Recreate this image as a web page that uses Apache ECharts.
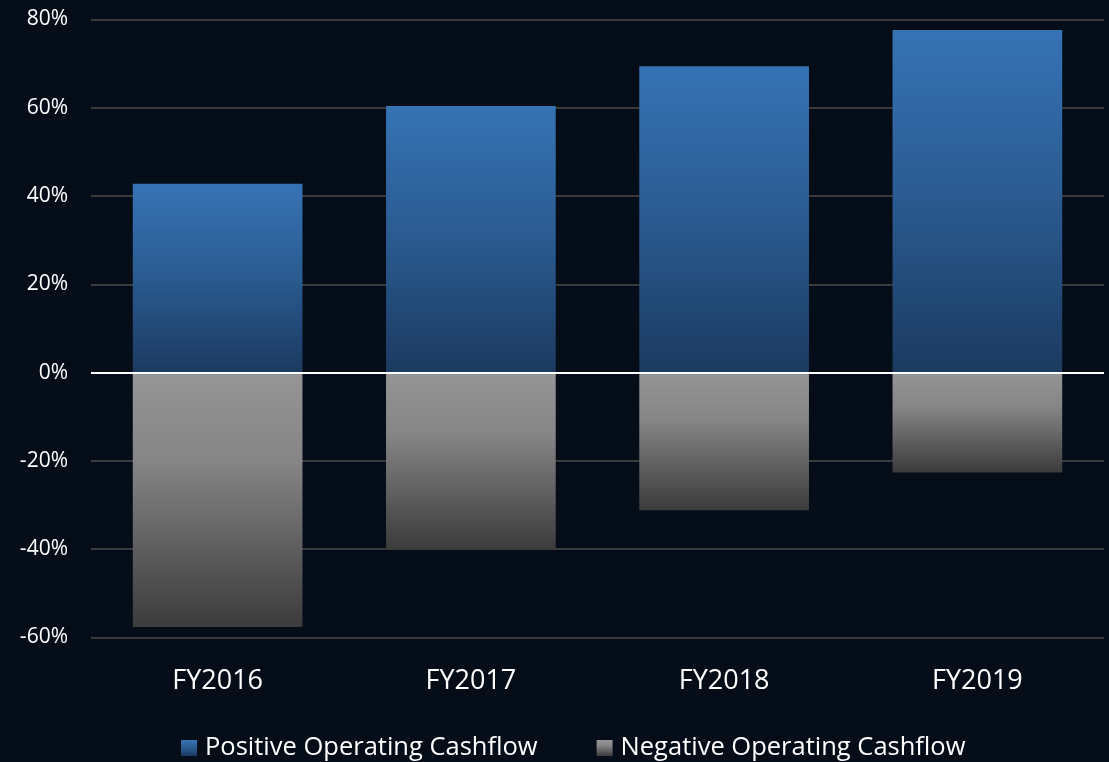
<!DOCTYPE html>
<html>
<head>
<meta charset="utf-8">
<script src="https://cdn.jsdelivr.net/npm/echarts@6/dist/echarts.min.js"></script>
<style>
  html, body { margin: 0; padding: 0; background: #050d19; }
  #main { width: 1109px; height: 762px; }
</style>
</head>
<body>
<div id="main"></div>
<script>
// values (percent)
const years = ['FY2016', 'FY2017', 'FY2018', 'FY2019']
const positiveCashflow = [42.8, 60.4, 69.4, 77.6]
const negativeCashflow = [-57.6, -40.1, -31.2, -22.6]
const yTicks = { min: -60, max: 80, step: 20 }

const chart = echarts.init(document.getElementById('main'))

const blueGrad = new echarts.graphic.LinearGradient(0, 0, 0, 1, [
  { offset: 0, color: '#3673b5' },
  { offset: 0.5, color: '#2a5a90' },
  { offset: 1, color: '#1b3a60' }
])
const grayGrad = new echarts.graphic.LinearGradient(0, 0, 0, 1, [
  { offset: 0, color: '#959595' },
  { offset: 0.35, color: '#858585' },
  { offset: 1, color: '#3b3b3b' }
])

const option = {
  backgroundColor: '#050d19',
  textStyle: { fontFamily: 'Open Sans' },
  grid: { left: 91, right: 5, top: 19.5, bottom: 124.5, containLabel: false },
  legend: {
    bottom: -4,
    left: 176,
    icon: 'rect',
    itemWidth: 16,
    itemHeight: 16,
    itemGap: 59,
    textStyle: { color: '#ffffff', fontSize: 25.5, fontFamily: 'Open Sans', padding: [0, 0, 0, 3] },
    data: ['Positive Operating Cashflow', 'Negative Operating Cashflow']
  },
  xAxis: {
    type: 'category',
    data: years,
    axisLine: { show: false },
    axisTick: { show: false },
    axisLabel: { color: '#ffffff', fontSize: 27, margin: 30, fontFamily: 'Open Sans' }
  },
  yAxis: {
    type: 'value',
    min: yTicks.min,
    max: yTicks.max,
    interval: yTicks.step,
    axisLine: { show: false },
    axisTick: { show: false },
    axisLabel: { color: '#ffffff', fontSize: 21, margin: 23, formatter: '{value}%', fontFamily: 'Open Sans' },
    splitLine: { lineStyle: { color: '#3a3a3a', width: 2 } }
  },
  series: [
    {
      name: 'Positive Operating Cashflow',
      type: 'bar',
      stack: 'cash',
      barWidth: '67%',
      itemStyle: { color: blueGrad },
      data: positiveCashflow,
      markLine: {
        silent: true,
        symbol: 'none',
        label: { show: false },
        lineStyle: { color: '#ffffff', width: 2, type: 'solid' },
        data: [{ yAxis: 0 }]
      }
    },
    {
      name: 'Negative Operating Cashflow',
      type: 'bar',
      stack: 'cash',
      barWidth: '67%',
      itemStyle: { color: grayGrad },
      data: negativeCashflow
    }
  ]
}
option && chart.setOption(option)
</script>
</body>
</html>
